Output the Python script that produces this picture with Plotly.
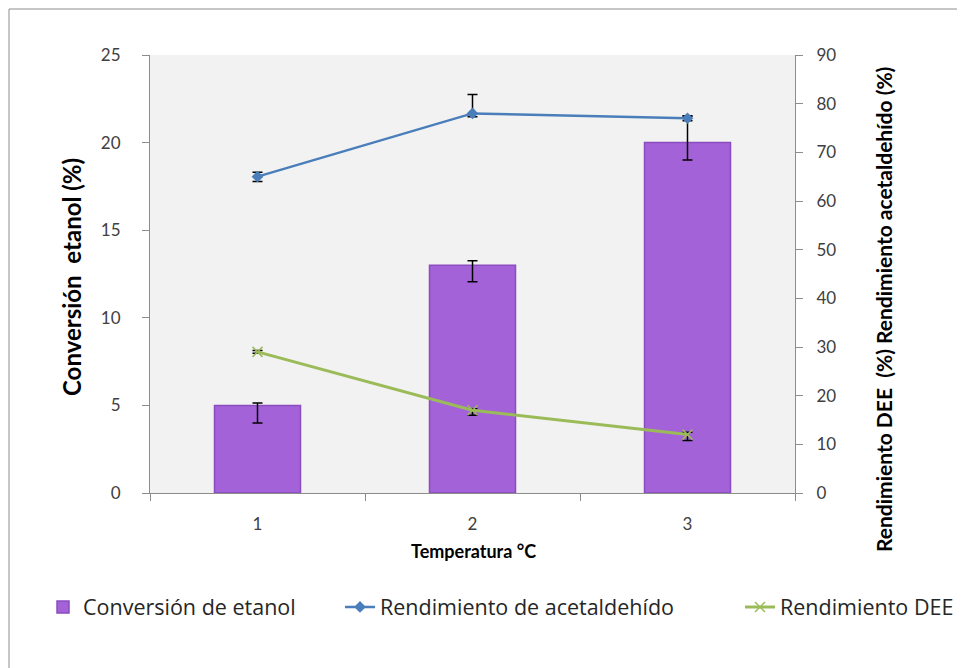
import plotly.graph_objects as go

categories = ["1", "2", "3"]
conversion = [5.0, 13.0, 20.0]
conv_err_plus = [0.14, 0.26, 1.5]
conv_err_minus = [1.0, 0.94, 1.0]
acetaldehido = [65.0, 78.0, 77.0]
acet_err_plus = [0.9, 3.9, 0.5]
acet_err_minus = [1.0, 0.7, 0.5]
dee = [29.0, 17.0, 12.0]
dee_err_plus = [0.3, 0.3, 0.5]
dee_err_minus = [0.3, 1.0, 1.2]

FONT = "Lato"
W, H = 965, 668
OFF = 8  # page body margin
# plot area in page pixels
PX0, PX1, PY0, PY1 = 150, 795, 55, 493
pw, ph = PX1 - PX0, PY1 - PY0

def px(x):
    return (x - PX0) / pw

def py(y):
    return (PY1 - y) / ph

fig = go.Figure()
fig.add_trace(go.Bar(
    x=categories, y=conversion, name="Conversión de etanol",
    width=0.4,
    marker=dict(color="#A462D9", line=dict(color="#8B4CBE", width=1.5)),
    error_y=dict(type="data", symmetric=False, array=conv_err_plus,
                 arrayminus=conv_err_minus, color="black", thickness=1.5, width=5),
    legend="legend",
))
fig.add_trace(go.Scatter(
    x=categories, y=acetaldehido, name="Rendimiento de acetaldehído",
    mode="lines+markers", yaxis="y2",
    line=dict(color="#4A7EBB", width=2.5),
    marker=dict(symbol="diamond", size=9, color="#4A7EBB"),
    error_y=dict(type="data", symmetric=False, array=acet_err_plus,
                 arrayminus=acet_err_minus, color="black", thickness=1.5, width=5),
    legend="legend2",
))
fig.add_trace(go.Scatter(
    x=categories, y=dee, name="Rendimiento DEE",
    mode="lines+markers", yaxis="y2",
    line=dict(color="#9BBB59", width=3),
    marker=dict(symbol="x-thin-open", size=10, color="#9BBB59",
                line=dict(color="#9BBB59", width=1.5)),
    error_y=dict(type="data", symmetric=False, array=dee_err_plus,
                 arrayminus=dee_err_minus, color="black", thickness=1.5, width=5),
    legend="legend3",
))

axis_common = dict(showgrid=False, zeroline=False, showline=True,
                   linecolor="#8c8c8c", linewidth=1, ticks="outside",
                   ticklen=7, tickcolor="#8c8c8c",
                   tickfont=dict(family=FONT, size=17, color="#404040"))

legend_font = dict(family="Open Sans", size=21.5, color="#262626")

fig.update_layout(
    width=W, height=H,
    margin=dict(l=PX0 - OFF, r=W + OFF - PX1, t=PY0 - OFF, b=H + OFF - PY1,
                autoexpand=False),
    paper_bgcolor="white",
    plot_bgcolor="#F2F2F2",
    font=dict(family=FONT, color="#404040"),
    xaxis=dict(**axis_common, type="category", tickson="boundaries",
               ticklabelstandoff=16),
    yaxis=dict(**axis_common, range=[0, 25], dtick=5, ticklabelstandoff=18),
    yaxis2=dict(**axis_common, range=[0, 90], dtick=10, overlaying="y",
                side="right", ticklabelstandoff=10),
    bargap=0.6,
    showlegend=True,
    legend=dict(x=px(43), y=py(607), xanchor="left", yanchor="middle",
                font=legend_font, bgcolor="rgba(0,0,0,0)"),
    legend2=dict(x=px(340), y=py(607), xanchor="left", yanchor="middle",
                 font=legend_font, bgcolor="rgba(0,0,0,0)"),
    legend3=dict(x=px(740), y=py(607), xanchor="left", yanchor="middle",
                 font=legend_font, bgcolor="rgba(0,0,0,0)"),
    annotations=[
        dict(text="<b>Conversión  etanol (%)</b>", x=px(71), y=py(277),
             xref="paper", yref="paper", showarrow=False, textangle=-90,
             xanchor="center", yanchor="middle",
             font=dict(family=FONT, size=24, color="black")),
        dict(text="<b>Rendimiento DEE  (%) Rendimiento acetaldehído (%)</b>",
             x=px(883), y=py(310), xref="paper", yref="paper",
             showarrow=False, textangle=-90,
             xanchor="center", yanchor="middle",
             font=dict(family=FONT, size=21, color="black")),
        dict(text="<b>Temperatura °C</b>", x=px(473), y=py(551),
             xref="paper", yref="paper", showarrow=False,
             xanchor="center", yanchor="middle",
             font=dict(family=FONT, size=18, color="black")),
    ],
    shapes=[
        dict(type="rect", xref="paper", yref="paper",
             x0=px(9), x1=px(990), y0=py(700), y1=py(9),
             line=dict(color="#8c8c8c", width=1), fillcolor="rgba(0,0,0,0)",
             layer="below"),
    ],
)

fig.write_html("out.html")
